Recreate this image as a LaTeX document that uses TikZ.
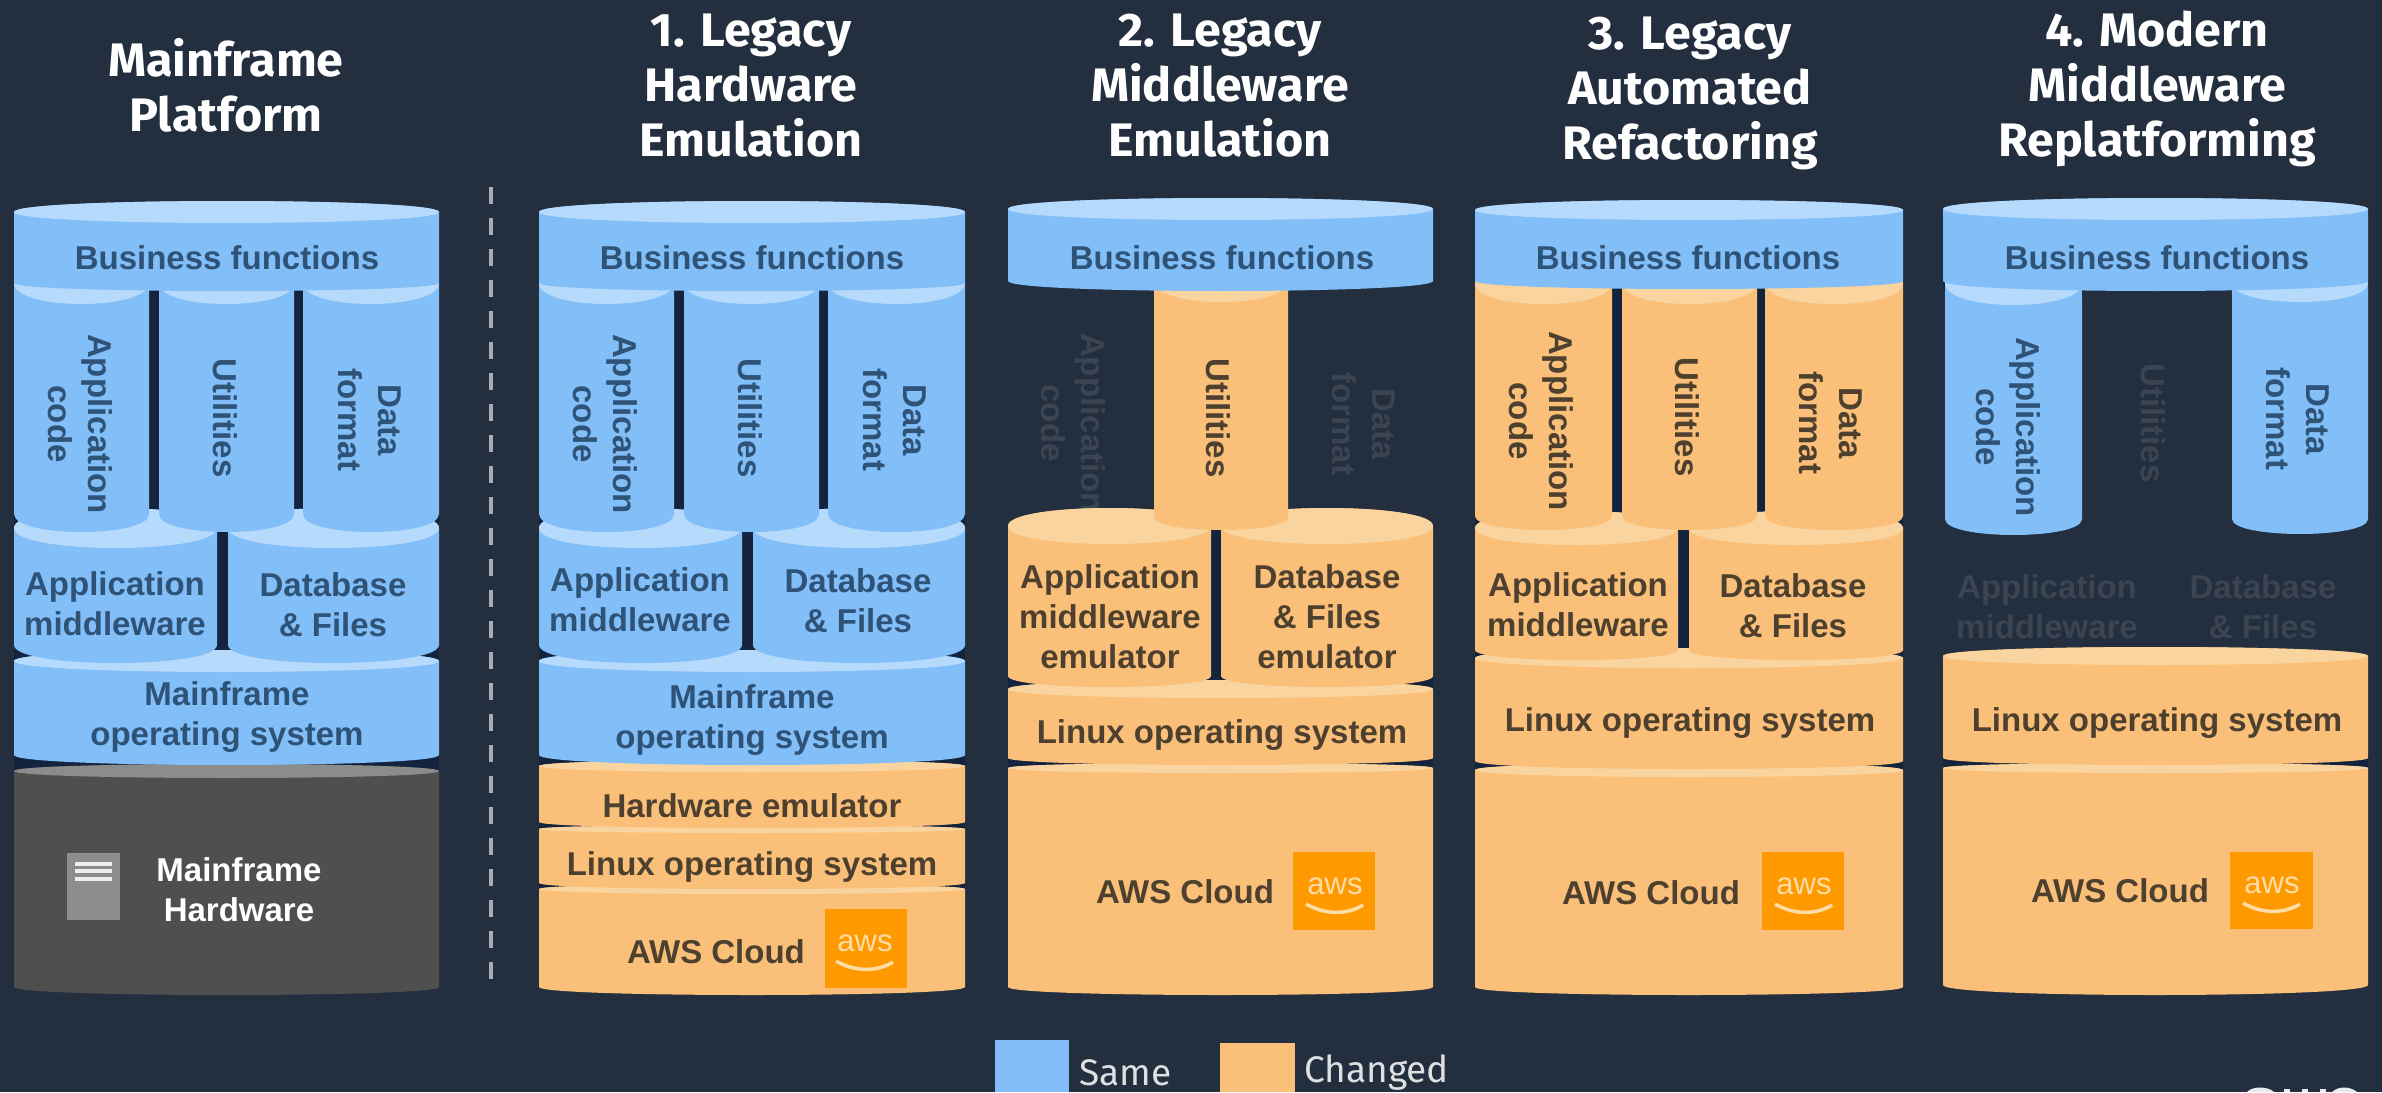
\documentclass[tikz,border=0pt]{standalone}
\usepackage{fontspec}
\setmainfont{Liberation Sans}
\newfontfamily\headfont[FakeStretch=1.03]{Fira Sans}
\newfontfamily\legfont{Fira Sans}
\definecolor{bgc}{HTML}{232E3F}
\definecolor{backc}{HTML}{14243F}
\definecolor{bluec}{HTML}{82BEF7}
\definecolor{bluel}{HTML}{B6DAFB}
\definecolor{oranc}{HTML}{FAC079}
\definecolor{oranl}{HTML}{FAD49F}
\definecolor{grayc}{HTML}{4F4F4F}
\definecolor{grayl}{HTML}{8C8C8C}
\definecolor{bluetxt}{HTML}{2F5277}
\definecolor{orantxt}{HTML}{4E402F}
\definecolor{ghost}{HTML}{3B4451}
\definecolor{awsc}{HTML}{FF9900}
\definecolor{awst}{HTML}{FFDDA8}
\tikzset{
  lbl/.style={font=\bfseries\fontsize{33}{40}\selectfont, align=center, inner sep=0pt},
  onblue/.style={lbl, text=bluetxt},
  onoran/.style={lbl, text=orantxt},
  ghosted/.style={lbl, text=ghost},
  whitelbl/.style={lbl, text=white},
  headlbl/.style={font=\headfont\bfseries\fontsize{47}{55}\selectfont, align=center, inner sep=0pt, text=white},
  leglbl/.style={font=\legfont\fontsize{37}{42}\selectfont, inner sep=0pt, text=white!85!bgc, anchor=west},
}
% x1 x2 ytop rytop ybot rybot body light
\newcommand{\cyl}[8]{%
  \pgfmathsetmacro{\ctA}{#3-1.333*#4}%
  \pgfmathsetmacro{\ctB}{#3+1.333*#4}%
  \pgfmathsetmacro{\ctC}{#5+1.333*#6}%
  \fill[#7] (#1,#3) .. controls (#1,\ctA) and (#2,\ctA) .. (#2,#3) -- (#2,#5)
     .. controls (#2,\ctC) and (#1,\ctC) .. (#1,#5) -- cycle;
  \fill[#8] (#1,#3) .. controls (#1,\ctA) and (#2,\ctA) .. (#2,#3)
     .. controls (#2,\ctB) and (#1,\ctB) .. (#1,#3) -- cycle;
}
% x1 y1 x2 y2 cx yaws name
\newcommand{\awslogo}[7]{%
  \fill[awsc] (#1,#2) rectangle (#3,#4);
  \node[font=\fontsize{31}{36}\selectfont, inner sep=0pt, text=awst] (#7) at (#5,#6) {aws};
  \draw[awst, line width=3.5pt] (#5-29,#6+18) .. controls (#5-10,#6+29) and (#5+12,#6+29) .. (#5+28,#6+19);
}
\begin{document}
\begin{tikzpicture}[x=1pt,y=-1pt]
\useasboundingbox (0,0) rectangle (2382,1092);
\fill[bgc] (0,0) rectangle (2382,1092);

% headers
\node[headlbl] (h0) at (226,85) {Mainframe\\Platform};
\node[headlbl] (h1) at (751,86) {1. Legacy\\Hardware\\Emulation};
\node[headlbl] (h2) at (1220,86) {2. Legacy\\Middleware\\Emulation};
\node[headlbl] (h3) at (1690,93) {3. Legacy\\Automated\\Refactoring};
\node[headlbl] (h4) at (2157,89) {4. Modern\\Middleware\\Replatforming};

% separator
\coordinate (sepa) at (491,187);
\coordinate (sepb) at (491,985);
\draw[white!60!bgc, line width=3.5pt, dash pattern=on 17pt off 14pt] (sepa) -- (sepb);

% ---------- column 0
\fill[backc] (14,290) rectangle (439,772);
\cyl{14}{439}{771}{7}{987}{8}{grayc}{grayl}
\cyl{14}{439}{661}{11}{755}{10}{bluec}{bluel}
\cyl{14}{217}{528}{20}{645}{18}{bluec}{bluel}
\cyl{228}{439}{528}{20}{645}{18}{bluec}{bluel}
\cyl{14}{149}{283}{21}{514}{18}{bluec}{bluel}
\cyl{159}{294}{283}{21}{514}{18}{bluec}{bluel}
\cyl{303}{439}{283}{21}{514}{18}{bluec}{bluel}
\cyl{14}{439}{212}{11}{283}{8}{bluec}{bluel}
\node[onblue] (c0bf) at (227,258) {Business functions};
\node[onblue,rotate=-90] (c0ac) at (80,424) {Application\\code};
\node[onblue,rotate=-90] (c0ut) at (225,418) {Utilities};
\node[onblue,rotate=-90] (c0df) at (370,420) {Data\\format};
\node[onblue] (c0am) at (115,604) {Application\\middleware};
\node[onblue] (c0db) at (333,605) {Database\\\& Files};
\node[onblue] (c0os) at (227,717) {Mainframe\\operating system};
\fill[grayl] (67,853) rectangle (120,920);
\fill[white!85!grayl] (75,862) rectangle (112,866);
\fill[white!85!grayl] (75,869) rectangle (112,873);
\fill[white!85!grayl] (75,877) rectangle (112,881);
\node[whitelbl] (c0hw) at (239,890) {Mainframe\\Hardware};

% ---------- column 1
\fill[backc] (539,290) rectangle (965,890);
\cyl{539}{965}{889}{5}{987}{8}{oranc}{oranl}
\cyl{539}{965}{829}{4}{883}{6}{oranc}{oranl}
\cyl{539}{965}{766}{6}{822}{6}{oranc}{oranl}
\cyl{539}{965}{661}{11}{755}{10}{bluec}{bluel}
\cyl{539}{742}{528}{20}{645}{18}{bluec}{bluel}
\cyl{753}{965}{528}{20}{645}{18}{bluec}{bluel}
\cyl{539}{674}{283}{21}{514}{18}{bluec}{bluel}
\cyl{684}{819}{283}{21}{514}{18}{bluec}{bluel}
\cyl{828}{965}{283}{21}{514}{18}{bluec}{bluel}
\cyl{539}{965}{212}{11}{283}{8}{bluec}{bluel}
\node[onblue] (c1bf) at (752,258) {Business functions};
\node[onblue,rotate=-90] (c1ac) at (605,424) {Application\\code};
\node[onblue,rotate=-90] (c1ut) at (750,418) {Utilities};
\node[onblue,rotate=-90] (c1df) at (895,420) {Data\\format};
\node[onblue] (c1am) at (640,600) {Application\\middleware};
\node[onblue] (c1db) at (858,601) {Database\\\& Files};
\node[onblue] (c1os) at (752,720) {Mainframe\\operating system};
\node[onoran] (c1hw) at (752,806) {Hardware emulator};
\node[onoran] (c1lx) at (752,867) {Linux operating system};
\node[onoran] (c1aw) at (716,952) {AWS Cloud};
\awslogo{825}{909}{907}{988}{865}{943}{c1lg}

% ---------- column 2
\node[ghosted,rotate=-90] (c2ac) at (1073,423) {Application\\code};
\node[ghosted,rotate=-90] (c2df) at (1364,424) {Data\\format};
\fill[backc] (1008,530) rectangle (1433,772);
\cyl{1008}{1433}{768}{5}{987}{8}{oranc}{oranl}
\cyl{1008}{1433}{689}{9}{758}{7}{oranc}{oranl}
\cyl{1008}{1211}{526}{18}{676}{11}{oranc}{oranl}
\cyl{1221}{1433}{526}{18}{676}{11}{oranc}{oranl}
\cyl{1154}{1288}{281}{21}{517}{13}{oranc}{oranl}
\cyl{1008}{1433}{209}{11}{281}{10}{bluec}{bluel}
\node[onblue] (c2bf) at (1222,258) {Business functions};
\node[onoran,rotate=-90] (c2ut) at (1218,418) {Utilities};
\node[onoran] (c2am) at (1110,617) {Application\\middleware\\emulator};
\node[onoran] (c2db) at (1327,617) {Database\\\& Files\\emulator};
\node[onoran] (c2lx) at (1222,735) {Linux operating system};
\node[onoran] (c2aw) at (1185,892) {AWS Cloud};
\awslogo{1293}{852}{1375}{930}{1335}{886}{c2lg}

% ---------- column 3
\fill[backc] (1475,285) rectangle (1903,772);
\cyl{1475}{1903}{770}{7}{987}{8}{oranc}{oranl}
\cyl{1475}{1903}{658}{10}{761}{8}{oranc}{oranl}
\cyl{1475}{1678}{528}{17}{650}{10}{oranc}{oranl}
\cyl{1689}{1903}{528}{17}{650}{10}{oranc}{oranl}
\cyl{1475}{1612}{283}{21}{516}{14}{oranc}{oranl}
\cyl{1622}{1757}{283}{21}{516}{14}{oranc}{oranl}
\cyl{1765}{1903}{283}{21}{516}{14}{oranc}{oranl}
\cyl{1475}{1903}{210}{10}{281}{8}{bluec}{bluel}
\node[onblue] (c3bf) at (1688,258) {Business functions};
\node[onoran,rotate=-90] (c3ac) at (1541,421) {Application\\code};
\node[onoran,rotate=-90] (c3ut) at (1687,417) {Utilities};
\node[onoran,rotate=-90] (c3df) at (1831,423) {Data\\format};
\node[onoran] (c3am) at (1578,605) {Application\\middleware};
\node[onoran] (c3db) at (1793,606) {Database\\\& Files};
\node[onoran] (c3lx) at (1690,723) {Linux operating system};
\node[onoran] (c3aw) at (1651,893) {AWS Cloud};
\awslogo{1762}{852}{1844}{930}{1804}{886}{c3lg}

% ---------- column 4
\node[ghosted,rotate=-90] (c4ut) at (2153,423) {Utilities};
\node[ghosted] (c4am) at (2047,607) {Application\\middleware};
\node[ghosted] (c4db) at (2263,607) {Database\\\& Files};
\fill[backc] (1943,755) rectangle (2368,772);
\fill[backc] (1943,272) rectangle (2368,291);
\cyl{1943}{2368}{768}{5}{985}{10}{oranc}{oranl}
\cyl{1943}{2368}{656}{9}{758}{7}{oranc}{oranl}
\cyl{1945}{2082}{283}{22}{519}{16}{bluec}{bluel}
\cyl{2232}{2368}{283}{19}{519}{15}{bluec}{bluel}
\cyl{1943}{2368}{209}{11}{281}{10}{bluec}{bluel}
\fill[bgc] (2082,291.5) rectangle (2232,300);
\node[onblue] (c4bf) at (2157,258) {Business functions};
\node[onblue,rotate=-90] (c4ac) at (2008,427) {Application\\code};
\node[onblue,rotate=-90] (c4df) at (2298,419) {Data\\format};
\node[onoran] (c4lx) at (2157,723) {Linux operating system};
\node[onoran] (c4aw) at (2120,891) {AWS Cloud};
\awslogo{2230}{852}{2313}{929}{2272}{885}{c4lg}

% legend
\fill[bluec] (995,1040) rectangle (1069,1092);
\node[leglbl] (same) at (1079,1073) {Same};
\fill[oranc] (1220,1043) rectangle (1295,1092);
\node[leglbl] (chgd) at (1304,1073) {Changed};

% cut-off logo at the bottom edge
\fill[white!90!bgc] (2247,1092) .. controls (2252,1086) and (2268,1086) .. (2274,1092) -- cycle;
\fill[white!90!bgc] (2284,1089) rectangle (2290,1092);
\fill[white!90!bgc] (2302,1089) rectangle (2308,1092);
\fill[white!90!bgc] (2320,1089) rectangle (2326,1092);
\fill[white!90!bgc] (2332,1092) .. controls (2338,1086) and (2350,1086) .. (2357,1092) -- cycle;
\end{tikzpicture}
\end{document}
